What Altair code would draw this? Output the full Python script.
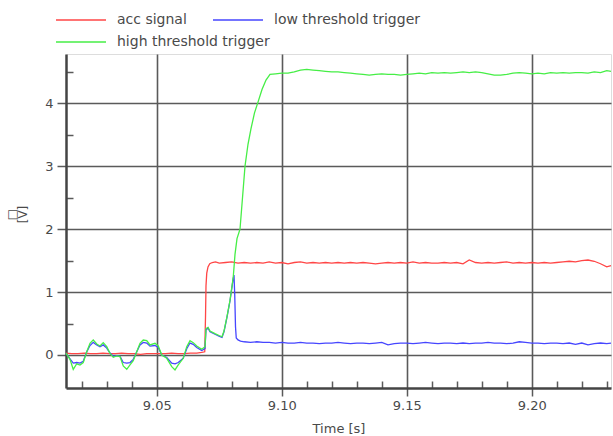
import altair as alt
import pandas as pd

# ---------------- data ----------------
series_names = ["acc signal", "low threshold trigger", "high threshold trigger"]
series_colors = ["#ff4646", "#4646ff", "#46ee46"]

# shared sampling times for the settled part of all three traces
t_tail = [9.0975, 9.1000, 9.1025, 9.1050, 9.1075, 9.1100, 9.1125, 9.1150, 9.1175, 9.1200,
          9.1225, 9.1250, 9.1275, 9.1300, 9.1325, 9.1350, 9.1375, 9.1400, 9.1425, 9.1450,
          9.1475, 9.1500, 9.1525, 9.1550, 9.1575, 9.1600, 9.1625, 9.1650, 9.1675, 9.1700,
          9.1725, 9.1750, 9.1775, 9.1800, 9.1825, 9.1850, 9.1875, 9.1900, 9.1925, 9.1950,
          9.1975, 9.2000, 9.2025, 9.2050, 9.2075, 9.2100, 9.2125, 9.2150, 9.2175, 9.2200,
          9.2225, 9.2250, 9.2275, 9.2300, 9.2317]

# acc signal (red)
acc_t_head = [9.0137, 9.0160, 9.0185, 9.0210, 9.0235, 9.0260, 9.0285, 9.0310, 9.0335, 9.0360,
              9.0385, 9.0410, 9.0435, 9.0460, 9.0485, 9.0510, 9.0535, 9.0560, 9.0585, 9.0610,
              9.0635, 9.0660, 9.0680, 9.0692, 9.0695, 9.0697, 9.0700, 9.0705, 9.0712, 9.0722,
              9.0735, 9.0750, 9.0775, 9.0800, 9.0825, 9.0850, 9.0875, 9.0900, 9.0925, 9.0950]
acc_v_head = [0.03, 0.02, 0.02, 0.03, 0.02, 0.02, 0.03, 0.02, 0.02, 0.03,
              0.02, 0.02, 0.01, 0.02, 0.02, 0.02, 0.02, 0.03, 0.02, 0.02,
              0.03, 0.03, 0.04, 0.05, 0.60, 1.10, 1.30, 1.40, 1.45, 1.47,
              1.48, 1.46, 1.47, 1.48, 1.46, 1.47, 1.46, 1.47, 1.46, 1.48]
acc_v_tail = [1.46, 1.47, 1.45, 1.47, 1.48, 1.46, 1.47, 1.46, 1.47, 1.46,
              1.47, 1.46, 1.47, 1.46, 1.47, 1.46, 1.45, 1.46, 1.47, 1.46,
              1.47, 1.46, 1.48, 1.46, 1.47, 1.46, 1.46, 1.47, 1.46, 1.47,
              1.45, 1.51, 1.47, 1.46, 1.47, 1.46, 1.47, 1.48, 1.46, 1.47,
              1.46, 1.47, 1.46, 1.47, 1.46, 1.47, 1.48, 1.49, 1.48, 1.50,
              1.51, 1.49, 1.45, 1.40, 1.42]

# low threshold trigger (blue)
low_t_head = [9.0137, 9.0153, 9.0166, 9.0180, 9.0193, 9.0206, 9.0220, 9.0233, 9.0246, 9.0260,
              9.0273, 9.0286, 9.0300, 9.0313, 9.0326, 9.0340, 9.0353, 9.0366, 9.0380, 9.0393,
              9.0406, 9.0420, 9.0433, 9.0446, 9.0460, 9.0473, 9.0493, 9.0506, 9.0520, 9.0540,
              9.0560, 9.0573, 9.0586, 9.0606, 9.0620, 9.0633, 9.0646, 9.0660, 9.0680, 9.0693,
              9.0697, 9.0705, 9.0713, 9.0733, 9.0749, 9.0761, 9.0769, 9.0781, 9.0793, 9.0806,
              9.0809, 9.0812, 9.0815, 9.0818, 9.0825, 9.0835, 9.0850, 9.0875, 9.0900, 9.0925,
              9.0950]
low_v_head = [0.03, -0.06, -0.13, -0.12, -0.13, -0.10, 0.05, 0.15, 0.20, 0.16,
              0.13, 0.16, 0.11, 0.03, -0.02, -0.01, -0.02, -0.12, -0.13, -0.12,
              -0.07, 0.05, 0.16, 0.20, 0.19, 0.14, 0.15, 0.12, 0.00, -0.04,
              -0.13, -0.14, -0.12, -0.05, 0.10, 0.19, 0.17, 0.12, 0.07, 0.10,
              0.40, 0.43, 0.37, 0.33, 0.30, 0.28, 0.37, 0.60, 0.86, 1.22,
              1.27, 0.95, 0.45, 0.27, 0.24, 0.22, 0.21, 0.20, 0.21, 0.20,
              0.20]
low_v_tail = [0.19, 0.20, 0.19, 0.19, 0.20, 0.19, 0.19, 0.18, 0.19, 0.19,
              0.20, 0.19, 0.18, 0.19, 0.19, 0.18, 0.19, 0.20, 0.16, 0.18,
              0.19, 0.19, 0.18, 0.19, 0.20, 0.19, 0.18, 0.19, 0.19, 0.18,
              0.19, 0.18, 0.19, 0.19, 0.20, 0.19, 0.19, 0.18, 0.19, 0.21,
              0.20, 0.19, 0.19, 0.18, 0.19, 0.19, 0.18, 0.19, 0.17, 0.19,
              0.16, 0.18, 0.19, 0.18, 0.19]

# high threshold trigger (green)
high_t_head = [9.0137, 9.0153, 9.0166, 9.0180, 9.0193, 9.0206, 9.0220, 9.0233, 9.0246, 9.0260,
               9.0273, 9.0286, 9.0300, 9.0313, 9.0326, 9.0340, 9.0353, 9.0366, 9.0380, 9.0393,
               9.0406, 9.0420, 9.0433, 9.0446, 9.0460, 9.0473, 9.0493, 9.0506, 9.0520, 9.0540,
               9.0560, 9.0573, 9.0586, 9.0606, 9.0620, 9.0633, 9.0646, 9.0660, 9.0680, 9.0693,
               9.0697, 9.0705, 9.0713, 9.0733, 9.0749, 9.0761, 9.0769, 9.0781, 9.0793, 9.0806,
               9.0813, 9.0821, 9.0833, 9.0843, 9.0853, 9.0865, 9.0877, 9.0891, 9.0905, 9.0921,
               9.0937, 9.0953]
high_v_head = [0.03, -0.07, -0.23, -0.14, -0.16, -0.12, 0.05, 0.185, 0.24, 0.175,
               0.143, 0.196, 0.132, 0.026, -0.037, -0.016, -0.026, -0.175, -0.228, -0.159,
               -0.09, 0.053, 0.185, 0.238, 0.228, 0.159, 0.185, 0.143, 0.0, -0.053,
               -0.185, -0.238, -0.159, -0.053, 0.132, 0.228, 0.196, 0.143, 0.09, 0.132,
               0.42, 0.44, 0.38, 0.34, 0.31, 0.29, 0.38, 0.61, 0.87, 1.24,
               1.60, 1.85, 2.00, 2.50, 3.00, 3.35, 3.60, 3.85, 4.02, 4.22,
               4.37, 4.46]
high_v_tail = [4.47, 4.48, 4.48, 4.50, 4.53, 4.54, 4.53, 4.52, 4.51, 4.50,
               4.50, 4.49, 4.48, 4.47, 4.46, 4.45, 4.46, 4.47, 4.46, 4.46,
               4.45, 4.46, 4.47, 4.48, 4.47, 4.49, 4.48, 4.49, 4.48, 4.49,
               4.50, 4.49, 4.50, 4.49, 4.47, 4.45, 4.45, 4.46, 4.48, 4.49,
               4.48, 4.47, 4.48, 4.47, 4.49, 4.48, 4.49, 4.48, 4.49, 4.49,
               4.48, 4.50, 4.49, 4.52, 4.51]

x_major = [9.05, 9.10, 9.15, 9.20]
x_minor = [9.02, 9.03, 9.04, 9.06, 9.07, 9.08, 9.09, 9.11, 9.12, 9.13, 9.14,
           9.16, 9.17, 9.18, 9.19, 9.21, 9.22, 9.23]
y_major = [0, 1, 2, 3, 4]
y_minor = [0.5, 1.5, 2.5, 3.5, 4.5]
x_domain = [9.0137, 9.2317]
y_domain = [-0.525, 4.785]

# ---------------- table ----------------
rows = []
for t, v in zip(acc_t_head + t_tail, acc_v_head + acc_v_tail):
    rows.append({"t": t, "v": v, "series": series_names[0]})
for t, v in zip(low_t_head + t_tail, low_v_head + low_v_tail):
    rows.append({"t": t, "v": v, "series": series_names[1]})
for t, v in zip(high_t_head + t_tail, high_v_head + high_v_tail):
    rows.append({"t": t, "v": v, "series": series_names[2]})
df = pd.DataFrame(rows)
df_row1 = df[df["series"].isin(series_names[:2])]
df_row2 = df[df["series"] == series_names[2]]

FONT = "DejaVu Sans"
TXT = "#4a4a4a"
GRID = "#5a5a5a"
W, H = 545, 334

xscale = alt.Scale(domain=x_domain, nice=False, zero=False)
yscale = alt.Scale(domain=y_domain, nice=False, zero=False)

legend_common = dict(
    orient="none", direction="horizontal", title=None, padding=0,
    symbolType="M-1,0H9", symbolSize=100, symbolStrokeWidth=1.5,
    labelFont=FONT, labelFontSize=14, labelColor=TXT, labelOffset=49,
    columnPadding=23,
)

lines_a = alt.Chart(df_row1).mark_line(strokeWidth=1.3).encode(
    x=alt.X("t:Q", scale=xscale, axis=alt.Axis(
        orient="bottom", values=x_major, format=".2f", grid=True,
        gridColor=GRID, gridWidth=1.6, gridOpacity=1,
        tickSize=8, tickColor=GRID, tickWidth=1.5,
        domainColor="#444", domainWidth=2.5,
        labelFont=FONT, labelFontSize=13, labelColor=TXT, labelPadding=3,
        title="Time [s]", titleFont=FONT, titleFontSize=13, titleFontWeight="normal",
        titleColor=TXT, titlePadding=10)),
    y=alt.Y("v:Q", scale=yscale, axis=alt.Axis(
        orient="left", values=y_major, format="d", grid=True,
        gridColor=GRID, gridWidth=1.6, gridOpacity=1,
        tickSize=9, tickColor=GRID, tickWidth=1.5,
        domainColor="#444", domainWidth=2.5,
        labelFont=FONT, labelFontSize=13, labelColor=TXT, labelPadding=4,
        title=["\u25a1", "[V]"], titleFont=FONT, titleFontSize=12, titleFontWeight="normal",
        titleColor=TXT, titleAngle=270, titleX=-55, titleY=160,
        titleAlign="center", titleBaseline="middle", titleLineHeight=11)),
    color=alt.Color("series:N",
                    scale=alt.Scale(domain=series_names[:2], range=series_colors[:2]),
                    legend=alt.Legend(legendX=-12, legendY=-41, **legend_common)),
)

lines_b = alt.Chart(df_row2).mark_line(strokeWidth=1.3).encode(
    x=alt.X("t:Q", scale=xscale, axis=None),
    y=alt.Y("v:Q", scale=yscale, axis=None),
    color=alt.Color("series:N",
                    scale=alt.Scale(domain=series_names[2:], range=series_colors[2:]),
                    legend=alt.Legend(legendX=-12, legendY=-19, **legend_common)),
)

minor = alt.Chart(df).mark_line(opacity=0).encode(
    x=alt.X("t:Q", scale=xscale, axis=alt.Axis(
        orient="top", offset=-H, values=x_minor, labels=False, grid=False, domain=False,
        tickSize=7, tickColor=GRID, tickWidth=1.5, title=None)),
    y=alt.Y("v:Q", scale=yscale, axis=alt.Axis(
        orient="right", offset=-W, values=y_minor, labels=False, grid=False, domain=False,
        tickSize=7, tickColor=GRID, tickWidth=1.5, title=None)),
    detail="series:N",
)

chart = alt.layer(minor, lines_a, lines_b).resolve_axis(
    x="independent", y="independent"
).resolve_scale(color="independent").properties(
    width=W, height=H, autosize="none",
    padding={"left": 66, "top": 54, "right": 2, "bottom": 48},
).configure_view(stroke="#666", strokeWidth=2).configure(background="white")

chart.save("out.html", embed_options={"renderer": "svg", "actions": False})
